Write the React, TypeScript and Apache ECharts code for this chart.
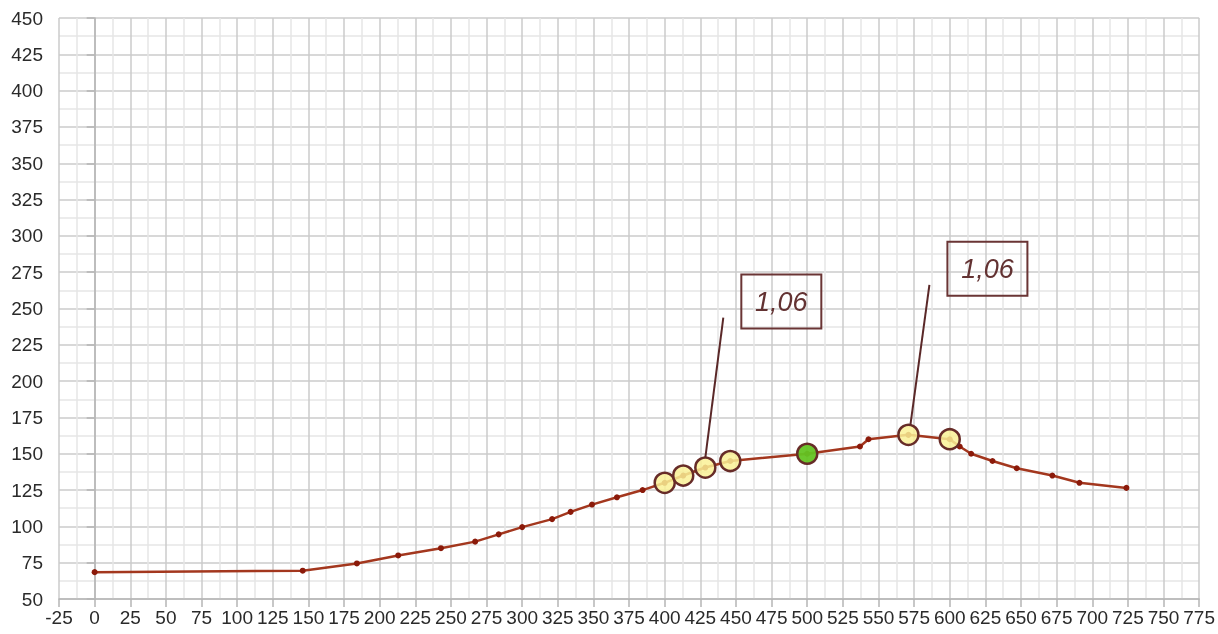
import React, { useEffect, useRef } from "react";
import * as echarts from "echarts";

const xValues = [0, 146, 184, 213, 243, 267, 283.5, 300, 321, 334, 349, 366.5, 384.5, 400, 413, 428.5, 446, 500, 537, 543, 571, 600, 607, 615, 630, 647, 672, 691, 724];
const yValues = [68.5, 69.5, 74.5, 80, 85, 89.5, 94.5, 99.5, 105, 110, 115, 120, 125, 130, 135, 140.5, 145, 150, 155, 160, 163, 160, 155, 150, 145, 140, 135, 130, 126.5];

const highlightX = [400, 413, 428.5, 446, 571, 600];
const highlightY = [130, 135, 140.5, 145, 163, 160];

const refX = [500];
const refY = [150];

const annotationX = [428.5, 571];
const annotationY = [140.5, 163];
const annotationText = ["1,06", "1,06"];

const X_MIN = -25;
const X_MAX = 775;
const Y_MIN = 50;
const Y_MAX = 450;
const STEP = 25;

export default function App() {
  const ref = useRef<HTMLDivElement>(null);
  useEffect(() => {
    if (!ref.current) return;
    const chart = echarts.init(ref.current, null, { renderer: "svg" });
    const axisColor = "#b5b5b5";
    const labelStyle = { color: "#2a2a2a", fontSize: 19, fontFamily: "Liberation Sans" };
    chart.setOption({
      animation: false,
      grid: { left: 59, right: 18, top: 18, bottom: 35 },
      xAxis: {
        type: "value",
        min: X_MIN,
        max: X_MAX,
        interval: STEP,
        axisLine: { show: true, lineStyle: { color: axisColor, width: 1.5 } },
        axisTick: { show: true, length: 8, lineStyle: { color: axisColor, width: 1.5 } },
        axisLabel: { ...labelStyle, margin: 9, showMinLabel: true, showMaxLabel: true, hideOverlap: false },
        splitLine: { show: true, lineStyle: { color: "#cbcbcb", width: 1.5 } },
        minorTick: { show: false, splitNumber: 2 },
        minorSplitLine: { show: true, lineStyle: { color: "#e6e6e6", width: 1.5 } },
      },
      yAxis: {
        type: "value",
        min: Y_MIN,
        max: Y_MAX,
        interval: STEP,
        axisLine: { show: true, lineStyle: { color: axisColor, width: 1.5 } },
        axisTick: { show: true, length: 8, lineStyle: { color: axisColor, width: 1.5 } },
        axisLabel: { ...labelStyle, margin: 16 },
        splitLine: { show: true, lineStyle: { color: "#cbcbcb", width: 1.5 } },
        minorTick: { show: false, splitNumber: 2 },
        minorSplitLine: { show: true, lineStyle: { color: "#e6e6e6", width: 1.5 } },
      },
      series: [
        {
          type: "line",
          data: xValues.map((x, i) => [x, yValues[i]]),
          symbol: "circle",
          symbolSize: 6,
          showSymbol: true,
          itemStyle: { color: "#8b1a0a" },
          lineStyle: { color: "#a3371e", width: 2.5 },
          z: 2,
        },
        {
          type: "scatter",
          data: highlightX.map((x, i) => [x, highlightY[i]]),
          symbol: "circle",
          symbolSize: 20,
          itemStyle: { color: "rgba(250,241,150,0.85)", borderColor: "#672c28", borderWidth: 2.5, opacity: 1 },
          z: 3,
        },
        {
          type: "scatter",
          data: refX.map((x, i) => [x, refY[i]]),
          symbol: "circle",
          symbolSize: 20,
          itemStyle: { color: "rgba(100,196,35,0.95)", borderColor: "#672c28", borderWidth: 2.5, opacity: 1 },
          z: 3,
        },
      ],
    });

    const graphics: any[] = [];
    annotationX.forEach((x, i) => {
      const p = chart.convertToPixel({ gridIndex: 0 }, [x, annotationY[i]]) as number[];
      const ox = i === 0 ? 0 : 2;
      graphics.push({
        type: "line",
        shape: { x1: p[0] + ox, y1: p[1] - 10, x2: p[0] + (i === 0 ? 18 : 21), y2: p[1] - 150 },
        style: { stroke: "#5a2828", lineWidth: 2 },
        z: 10,
      });
      const bx = p[0] + (i === 0 ? 36 : 39);
      const by = p[1] - 193;
      graphics.push({
        type: "rect",
        shape: { x: bx, y: by, width: 80, height: 54 },
        style: { fill: "transparent", stroke: "#6a3535", lineWidth: 2 },
        z: 10,
      });
      graphics.push({
        type: "text",
        x: bx + 40,
        y: by + 27,
        style: {
          text: annotationText[i],
          fill: "#633232",
          fontSize: 27,
          fontStyle: "italic",
          fontFamily: "Liberation Sans",
          align: "center",
          verticalAlign: "middle",
        },
        z: 11,
      });
    });
    chart.setOption({ graphic: graphics });

    return () => chart.dispose();
  }, []);
  return <div ref={ref} style={{ position: "fixed", left: 0, top: 0, width: 1218, height: 634 }} />;
}
